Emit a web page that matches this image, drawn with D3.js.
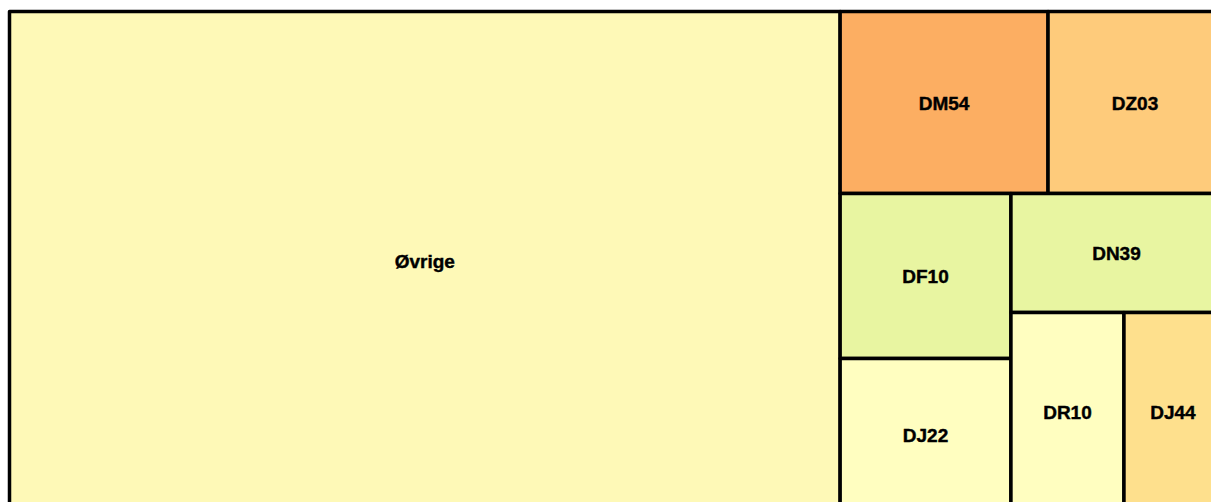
<!DOCTYPE html>
<html>
<head>
<meta charset="utf-8">
<script src="https://cdn.jsdelivr.net/npm/d3@7"></script>
<style>
  html, body { margin: 0; padding: 0; background: #fff; overflow: hidden; }
  svg { display: block; }
</style>
</head>
<body>
<div id="chart"></div>
<script>
// ---- data ----
const categories = ["Øvrige", "DM54", "DZ03", "DF10", "DJ22", "DN39", "DR10", "DJ44"];
const shares     = [68.5, 6.25, 5.23, 4.66, 4.29, 4.15, 3.70, 3.21];

// ---- styles (kept separately) ----
const cellColors = ["#FEF9B7", "#FCAE62", "#FECB7B", "#E8F5A1", "#FFFEC0", "#E8F5A1", "#FFFEC0", "#FEE08D"];

const W = 1240, H = 530;
const x0 = 9.5, y0 = 11.5, x1 = 1222, y1 = 510.5;
const fontSize = 19;

const svg = d3.select("#chart").append("svg")
  .attr("width", W).attr("height", H);

const root = d3.hierarchy({
    children: categories.map((c, i) => ({ name: c, value: shares[i], color: cellColors[i] }))
  })
  .sum(d => d.value || 0)
  .sort((a, b) => b.value - a.value);

d3.treemap()
  .tile(d3.treemapSquarify.ratio(1))
  .size([x1 - x0, y1 - y0])
  .round(false)(root);

const cells = svg.append("g")
  .attr("transform", `translate(${x0},${y0})`)
  .selectAll("g")
  .data(root.leaves())
  .join("g");

cells.append("rect")
  .attr("x", d => d.x0)
  .attr("y", d => d.y0)
  .attr("width", d => d.x1 - d.x0)
  .attr("height", d => d.y1 - d.y0)
  .attr("fill", d => d.data.color)
  .attr("stroke", "#000")
  .attr("stroke-width", 3.5)
  .attr("stroke-linejoin", "round");

cells.append("text")
  .attr("x", d => (d.x0 + d.x1) / 2)
  .attr("y", d => (d.y0 + d.y1) / 2 + 0.36 * fontSize + 0.5)
  .attr("text-anchor", "middle")
  .attr("font-family", "'Liberation Sans', Arial, sans-serif")
  .attr("font-weight", "bold")
  .attr("font-size", fontSize)
  .attr("fill", "#000")
  .attr("stroke", "#000")
  .attr("stroke-width", 0.4)
  .text(d => d.data.name);
</script>
</body>
</html>
